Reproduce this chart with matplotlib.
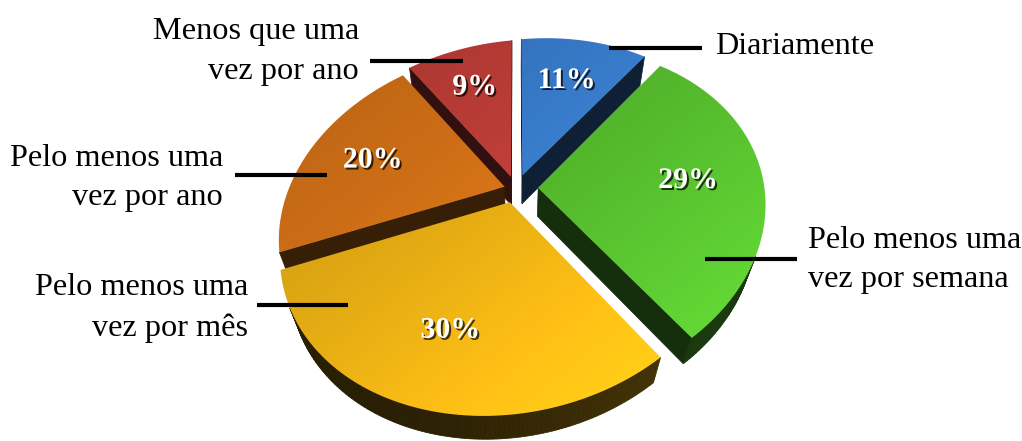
import numpy as np
import matplotlib.pyplot as plt
from matplotlib.patches import Polygon
import matplotlib.patheffects as pe

# Survey answers, clockwise from 12 o'clock
categories = ["Diariamente", "Pelo menos uma\nvez por semana", "Pelo menos uma\nvez por mês",
              "Pelo menos uma\nvez por ano", "Menos que uma\nvez por ano"]
shares = [11, 29, 30, 20, 9]
colors = ["#3a80d2", "#54b82d", "#eab014", "#dc7618", "#c6403a"]
explode = [0.085, 0.1, 0.08, 0.055, 0.08]

# label layout in pixels: text anchor (x, y, align) and leader line (x0, x1, y)
text_pos = [(715, 46, "left"), (808, 260, "left"), (248, 308, "right"),
            (223, 178, "right"), (359, 52, "right")]
leaders = [(609, 702, 48), (705, 797, 259), (257, 348, 305),
           (235, 327, 175), (370, 463, 61)]

# simple perspective camera looking down on the pie
tilt = np.radians(48.6)
dist = 3.48
focal = 773.0
cx, cy = 516.0, 189.0
shear = 0.085
depth = 0.2
sn, cs = np.sin(tilt), np.cos(tilt)
cam = np.array([0.0, -dist * cs, dist * sn])


def project(X, Y, Z):
    X, Y, Z = np.asarray(X, float), np.asarray(Y, float), np.asarray(Z, float)
    v = Y * sn + Z * cs
    w = Y * cs - Z * sn
    px = focal * X / (dist + w)
    py = focal * v / (dist + w)
    return cx + px, cy - py - shear * px


def facing(normal, point):
    return np.dot(normal, cam - point) > 0


def rgb(c):
    c = c.lstrip("#")
    return np.array([int(c[i:i + 2], 16) for i in (0, 2, 4)]) / 255.0


W, H = 1022, 441
fig = plt.figure(figsize=(W / 100, H / 100), dpi=100)
ax = fig.add_axes([0, 0, 1, 1])
ax.set_xlim(0, W)
ax.set_ylim(H, 0)
ax.axis("off")

gx, gy = np.meshgrid(np.arange(W) + 0.5, np.arange(H) + 0.5)
light = 0.86 + 0.42 * np.clip(0.5 * (gx - 320) / 450 + 0.5 * (gy - 60) / 360, 0, 1) ** 1.3

total = float(sum(shares))
bounds = 90 - 360 * np.concatenate([[0], np.cumsum(shares)]) / total

slices = []
for i in range(len(shares)):
    lo, hi = bounds[i + 1], bounds[i]
    mid = np.radians((lo + hi) / 2)
    ox, oy = explode[i] * np.cos(mid), explode[i] * np.sin(mid)
    slices.append((i, np.radians(lo), np.radians(hi), mid, ox, oy))

# far slices first
slices.sort(key=lambda s: -np.sin(s[3]))

z = 1
for i, lo, hi, mid, ox, oy in slices:
    base = rgb(colors[i])
    th = np.linspace(lo, hi, max(int(np.degrees(hi - lo)), 2) + 1)

    # radial walls
    for a, n in ((lo, np.array([np.sin(lo), -np.cos(lo), 0])),
                 (hi, np.array([-np.sin(hi), np.cos(hi), 0]))):
        p = np.array([ox + 0.5 * np.cos(a), oy + 0.5 * np.sin(a), -depth / 2])
        if not facing(n, p):
            continue
        X = [ox, ox + np.cos(a), ox + np.cos(a), ox]
        Y = [oy, oy + np.sin(a), oy + np.sin(a), oy]
        Zs = [0, 0, -depth, -depth]
        px, py = project(X, Y, Zs)
        col = base * 0.25
        ax.add_patch(Polygon(np.c_[px, py], closed=True, fc=col, ec=col, lw=0.5, zorder=z))
        z += 1

    # outer wall, one strip per degree
    for t0, t1 in zip(th[:-1], th[1:]):
        tm = (t0 + t1) / 2
        n = np.array([np.cos(tm), np.sin(tm), 0])
        p = np.array([ox + np.cos(tm), oy + np.sin(tm), -depth / 2])
        if not facing(n, p):
            continue
        X = ox + np.cos([t0, t1, t1, t0])
        Y = oy + np.sin([t0, t1, t1, t0])
        px, py = project(X, Y, [0, 0, -depth, -depth])
        f = 0.17 + 0.14 * np.clip((px.mean() - 340) / 360, 0, 1) ** 1.5
        col = np.clip(base * f, 0, 1)
        ax.add_patch(Polygon(np.c_[px, py], closed=True, fc=col, ec=col, lw=0.6, zorder=z))
    z += 1

    # top face with a soft light gradient
    X = np.concatenate([[ox], ox + np.cos(th)])
    Y = np.concatenate([[oy], oy + np.sin(th)])
    px, py = project(X, Y, np.zeros_like(X))
    top = Polygon(np.c_[px, py], closed=True, fc="none", ec="none", zorder=z)
    ax.add_patch(top)
    img = np.clip(base[None, None, :] * light[:, :, None], 0, 1)
    im = ax.imshow(img, extent=(0, W, H, 0), origin="upper", interpolation="bilinear", zorder=z)
    im.set_clip_path(top)
    z += 1

# percentage labels on the top faces
for i, lo, hi, mid, ox, oy in slices:
    r = 0.67
    tx, ty = project(ox + r * np.cos(mid), oy + r * np.sin(mid), 0.0)
    ax.text(float(tx), float(ty), f"{shares[i]}%", ha="center", va="center",
            color="white", fontsize=21.5, fontweight="bold", family="Liberation Serif",
            zorder=z + 2,
            path_effects=[pe.withSimplePatchShadow(offset=(1.4, -1.4), shadow_rgbFace="black", alpha=0.75)])

# category labels with leader lines
for name, (x, y, ha), (x0, x1, ly) in zip(categories, text_pos, leaders):
    ax.plot([x0, x1], [ly, ly], color="black", lw=3, solid_capstyle="butt", zorder=z + 1)
    ax.text(x, y, name, ha=ha, va="center", multialignment=ha, fontsize=23.2,
            family="Liberation Serif", linespacing=1.5, color="black", zorder=z + 1)

fig.savefig("out.png", dpi=100)
